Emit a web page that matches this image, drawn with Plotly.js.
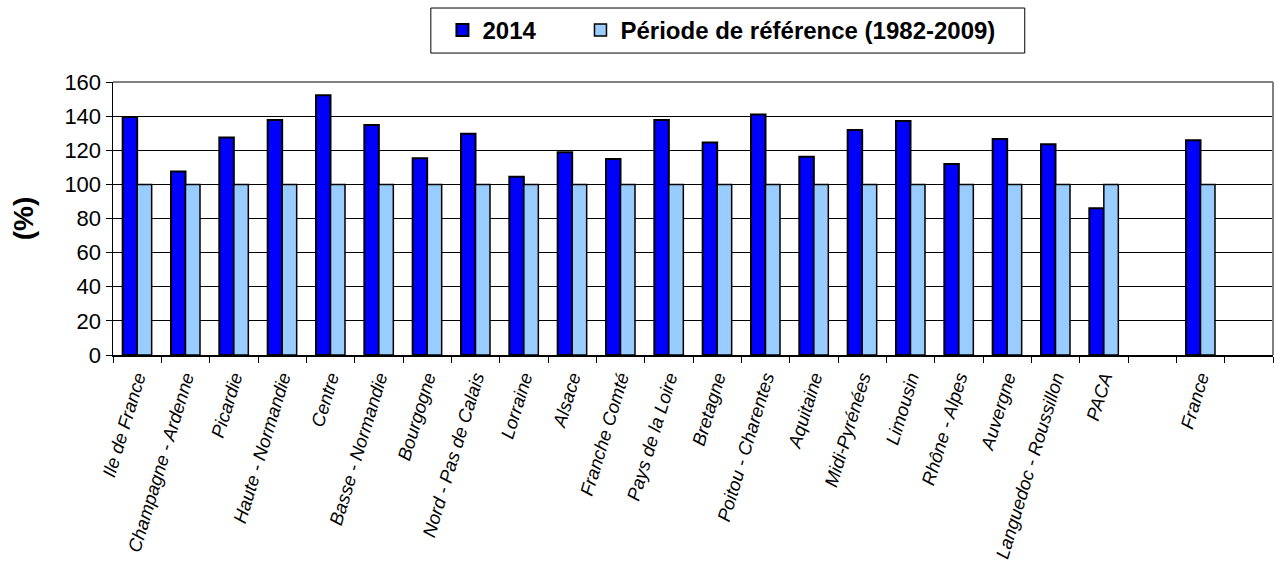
<!DOCTYPE html>
<html>
<head>
<meta charset="utf-8">
<script src="https://cdn.plot.ly/plotly-3.0.1.min.js"></script>
<style>html,body{margin:0;padding:0;background:#fff;}#chart{width:1274px;height:562px;}</style>
</head>
<body>
<div id="chart"></div>
<script>
const categories = ["Ile de France","Champagne - Ardenne","Picardie","Haute - Normandie","Centre","Basse - Normandie","Bourgogne","Nord - Pas de Calais","Lorraine","Alsace","Franche Comté","Pays de la Loire","Bretagne","Poitou - Charentes","Aquitaine","Midi-Pyrénées","Limousin","Rhône - Alpes","Auvergne","Languedoc - Roussillon","PACA"," ","France","  "];
const values2014 = [139.5,107.5,127.5,137.7,152.3,134.8,115.3,129.6,104.5,118.8,114.9,137.7,124.5,141.0,116.2,131.9,137.2,112.0,126.6,123.5,86.0,null,125.8,null];
const valuesRef = [100,100,100,100,100,100,100,100,100,100,100,100,100,100,100,100,100,100,100,100,100,null,100,null];
const seriesNames = ["2014","Période de référence (1982-2009)"];
const yTicks = [0,20,40,60,80,100,120,140,160];

const FONT = "Arial, 'Liberation Sans', sans-serif";

const traces = [
  {type:"bar", x:categories, y:values2014, name:seriesNames[0], legend:"legend",
   marker:{color:"#0000FF", line:{color:"#000000", width:2}}},
  {type:"bar", x:categories, y:valuesRef, name:seriesNames[1], legend:"legend2",
   marker:{color:"#99CCFF", line:{color:"#000000", width:1.5}}}
];

const legendFont = {family:FONT, size:24, color:"#000", weight:"bold"};

const layout = {
  width:1274, height:562,
  margin:{l:113, r:1, t:82, b:207},
  paper_bgcolor:"#ffffff", plot_bgcolor:"#ffffff",
  font:{family:FONT, color:"#000"},
  barmode:"group", bargap:0.4, bargroupgap:0,
  showlegend:true,
  legend:{orientation:"h", x:0.284, y:1.271, xanchor:"left", yanchor:"top",
    borderwidth:0, bgcolor:"rgba(0,0,0,0)", font:legendFont},
  legend2:{orientation:"h", x:0.403, y:1.271, xanchor:"left", yanchor:"top",
    borderwidth:0, bgcolor:"rgba(0,0,0,0)", font:legendFont},
  xaxis:{type:"category", categoryarray:categories, categoryorder:"array",
    range:[-0.5,23.5], tickson:"boundaries", ticks:"outside", ticklen:6, tickcolor:"#000",
    tickangle:-73, ticklabelstandoff:3, showline:true, linecolor:"#000", linewidth:1.5, showgrid:false,
    tickfont:{family:FONT, size:18.5, style:"italic", color:"#000"}},
  yaxis:{range:[0,160], tickvals:yTicks, ticks:"outside", ticklen:6, tickcolor:"#000",
    showline:true, linecolor:"#000", linewidth:1.5, showgrid:true, gridcolor:"#000", gridwidth:1,
    zeroline:false,
    tickfont:{family:FONT, size:22, color:"#000"},
    title:{text:"(%)", font:{family:FONT, size:28, weight:"bold", color:"#000"}, standoff:22}},
  shapes:[
    {type:"line", xref:"paper", yref:"paper", x0:0, x1:1, y0:1, y1:1, line:{color:"#808080", width:2}},
    {type:"line", xref:"paper", yref:"paper", x0:1, x1:1, y0:0, y1:1, line:{color:"#808080", width:2}},
    {type:"rect", xref:"paper", yref:"paper", x0:0.274, x1:0.786, y0:1.106, y1:1.271,
     line:{color:"#000", width:1}, fillcolor:"rgba(0,0,0,0)"}
  ]
};

Plotly.newPlot("chart", traces, layout, {displayModeBar:false, staticPlot:true});
</script>
</body>
</html>
